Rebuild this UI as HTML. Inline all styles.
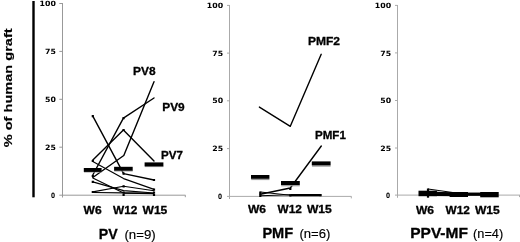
<!DOCTYPE html>
<html><head><meta charset="utf-8"><title>Human graft</title>
<style>
html,body{margin:0;padding:0;background:#fff;}
svg{display:block}
.ax{stroke:#999;stroke-width:1;fill:none}
.ax2{stroke:#aaa;stroke-width:1;fill:none}
.ln{stroke:#000;stroke-width:1.4;fill:none;stroke-linejoin:round;stroke-linecap:round}
.ln2{stroke:#000;stroke-width:1.15;fill:none;stroke-linejoin:round}
.ln3{stroke:#000;stroke-width:2.2;fill:none;stroke-linejoin:round}
.mk{stroke:#000;stroke-width:2.2;stroke-linecap:square;fill:none}
.bar{fill:#000}
.sh{fill:#999}
</style></head>
<body>
<svg width="520" height="242" viewBox="0 0 520 242">
<rect width="520" height="242" fill="#fff"/>
<text transform="translate(11.6,147.3) rotate(-90) scale(1.235,1)" font-family="'Liberation Sans', sans-serif" font-weight="bold" font-size="11.8" fill="#000" stroke="#000" stroke-width="0.15">% of human graft</text>
<rect x="32.3" y="1" width="2.4" height="196.3" fill="#000"/>
<!-- PANEL 1 -->
<path class="ax" d="M62.5 3V197.5M62.5 195.2H185.5M59.3 3.5H62.5M59.3 51.4H62.5M59.3 99.3H62.5M59.3 147.2H62.5M59.3 195.2H62.5M185.3 195.2v2"/>
<polyline class="ln" points="92.8,177.5 123.8,155.5 154,81.7"/>
<polyline class="ln" points="92.8,175 123.4,118.2 154,98"/>
<polyline class="ln" points="92.6,160.2 123.4,130 154,161"/>
<polyline class="ln" points="92.8,116.1 123.6,173.6 154,180"/>
<polyline class="ln2" points="92.8,161.5 123.6,178.6 154,189.4"/>
<polyline class="ln2" points="92.8,178.1 123.6,193.1 154,193.6"/>
<polyline class="ln2" points="92.8,181.9 123.6,190.6 154,193"/>
<polyline class="ln2" points="92.8,191.9 123.6,186.3 154,190.8"/>
<polyline class="ln2" points="92.8,192.5 123.6,192.9 154,193.3"/>
<path class="mk" d="M92.8 116.1h0M92.8 161h0M92.8 176h0M92.8 181.9h0M92.8 192h0M123.6 118.2h0M123.6 130h0M123.6 173.6h0M123.6 186.3h0M123.6 192.5h0M123.6 195h0M154 180h0M154 189.6h0M154 192.6h0M154 195h0"/>
<rect class="sh" x="84" y="171.3" width="17.6" height="1.2"/><rect class="bar" x="83.8" y="168" width="17.8" height="3.9"/>
<rect class="sh" x="114.3" y="170.3" width="18.4" height="1.2"/><rect class="bar" x="114.1" y="166.8" width="18.6" height="3.9"/>
<rect class="sh" x="144.8" y="165.9" width="18.6" height="1.2"/><rect class="bar" x="144.6" y="162.4" width="18.8" height="3.9"/>
<!-- PANEL 2 -->
<path class="ax2" d="M229.5 5V199M229.5 196.4H351.5M227 5.4H229.5M227 53.1H229.5M227 100.8H229.5M227 148.6H229.5M227 196.4H229.5M351.3 196.4v2"/>
<polyline class="ln" points="259.4,107.1 290.3,126.3 321.2,54.3"/>
<polyline class="ln" points="260.3,194.3 290.3,188 321.3,146"/>
<polyline class="ln2" points="260.3,192 290.3,195.2"/>
<polyline class="ln2" points="260.3,195.7 290.3,194.8"/>
<polyline class="ln3" points="290.3,195.1 320.6,195.1"/>
<path class="mk" d="M260.3 192.5v3.5M290.3 189h0M290.3 195.3h0M320.6 195.1h0"/>
<rect class="sh" x="251.2" y="178.9" width="18.2" height="1.2"/><rect class="bar" x="251" y="175" width="18.4" height="3.8"/>
<rect class="sh" x="281.2" y="185.1" width="18.6" height="1.2"/><rect class="bar" x="281" y="181" width="18.8" height="4"/>
<rect class="sh" x="312" y="165.5" width="18.6" height="1.2"/><rect class="bar" x="311.8" y="161.4" width="18.8" height="4"/>
<!-- PANEL 3 -->
<path class="ax2" d="M397.5 5V197.8M397.5 195.1H520M395 5.4H397.5M395 52.9H397.5M395 100.5H397.5M395 148H397.5M395 195.1H397.5M519.5 195.1v2"/>
<polyline class="ln2" points="428,189 458,193.2"/>
<polyline class="ln2" points="428,191.6 458,193.8"/>
<polyline class="ln3" points="428,194 458,194.3" style="stroke-width:4"/><polyline class="ln3" points="458,194.2 489,194.2" style="stroke-width:3.3"/>
<path class="mk" d="M428 189.6v7"/>
<rect class="bar" x="418.5" y="190.7" width="18.4" height="5.5"/>
<rect class="bar" x="449.6" y="192" width="18.4" height="5"/>
<rect class="bar" x="480.2" y="192" width="18.5" height="5.3"/>

<text transform="translate(39.60,6.15) scale(1.079,1)" font-family="'DejaVu Sans', 'Liberation Sans', sans-serif" font-weight="bold" font-size="7.27" fill="#000">100</text>
<text transform="translate(45.10,54.05) scale(1.074,1)" font-family="'DejaVu Sans', 'Liberation Sans', sans-serif" font-weight="bold" font-size="7.27" fill="#000">75</text>
<text transform="translate(45.10,101.95) scale(1.074,1)" font-family="'DejaVu Sans', 'Liberation Sans', sans-serif" font-weight="bold" font-size="7.27" fill="#000">50</text>
<text transform="translate(45.10,149.85) scale(1.074,1)" font-family="'DejaVu Sans', 'Liberation Sans', sans-serif" font-weight="bold" font-size="7.27" fill="#000">25</text>
<text transform="translate(50.90,197.65) scale(0.800,1)" font-family="'DejaVu Sans', 'Liberation Sans', sans-serif" font-weight="bold" font-size="7.27" fill="#000">0</text>
<text transform="translate(206.80,8.05) scale(1.079,1)" font-family="'DejaVu Sans', 'Liberation Sans', sans-serif" font-weight="bold" font-size="7.27" fill="#000">100</text>
<text transform="translate(212.30,55.75) scale(1.074,1)" font-family="'DejaVu Sans', 'Liberation Sans', sans-serif" font-weight="bold" font-size="7.27" fill="#000">75</text>
<text transform="translate(212.30,103.45) scale(1.074,1)" font-family="'DejaVu Sans', 'Liberation Sans', sans-serif" font-weight="bold" font-size="7.27" fill="#000">50</text>
<text transform="translate(212.30,151.25) scale(1.074,1)" font-family="'DejaVu Sans', 'Liberation Sans', sans-serif" font-weight="bold" font-size="7.27" fill="#000">25</text>
<text transform="translate(218.10,198.85) scale(0.800,1)" font-family="'DejaVu Sans', 'Liberation Sans', sans-serif" font-weight="bold" font-size="7.27" fill="#000">0</text>
<text transform="translate(374.80,8.05) scale(1.079,1)" font-family="'DejaVu Sans', 'Liberation Sans', sans-serif" font-weight="bold" font-size="7.27" fill="#000">100</text>
<text transform="translate(380.30,55.55) scale(1.074,1)" font-family="'DejaVu Sans', 'Liberation Sans', sans-serif" font-weight="bold" font-size="7.27" fill="#000">75</text>
<text transform="translate(380.30,103.15) scale(1.074,1)" font-family="'DejaVu Sans', 'Liberation Sans', sans-serif" font-weight="bold" font-size="7.27" fill="#000">50</text>
<text transform="translate(380.30,150.65) scale(1.074,1)" font-family="'DejaVu Sans', 'Liberation Sans', sans-serif" font-weight="bold" font-size="7.27" fill="#000">25</text>
<text transform="translate(386.10,197.55) scale(0.800,1)" font-family="'DejaVu Sans', 'Liberation Sans', sans-serif" font-weight="bold" font-size="7.27" fill="#000">0</text>
<text transform="translate(83.60,213.60) scale(1.075,1)" font-family="'Liberation Sans', sans-serif" font-weight="bold" font-size="11.2" fill="#000" stroke="#000" stroke-width="0.3">W6</text>
<text transform="translate(113.10,213.60) scale(1.058,1)" font-family="'Liberation Sans', sans-serif" font-weight="bold" font-size="11.2" fill="#000" stroke="#000" stroke-width="0.3">W12</text>
<text transform="translate(142.50,213.60) scale(1.080,1)" font-family="'Liberation Sans', sans-serif" font-weight="bold" font-size="11.2" fill="#000" stroke="#000" stroke-width="0.3">W15</text>
<text transform="translate(248.00,213.30) scale(1.075,1)" font-family="'Liberation Sans', sans-serif" font-weight="bold" font-size="11.2" fill="#000" stroke="#000" stroke-width="0.3">W6</text>
<text transform="translate(277.50,213.30) scale(1.058,1)" font-family="'Liberation Sans', sans-serif" font-weight="bold" font-size="11.2" fill="#000" stroke="#000" stroke-width="0.3">W12</text>
<text transform="translate(306.90,213.30) scale(1.080,1)" font-family="'Liberation Sans', sans-serif" font-weight="bold" font-size="11.2" fill="#000" stroke="#000" stroke-width="0.3">W15</text>
<text transform="translate(416.00,213.60) scale(1.075,1)" font-family="'Liberation Sans', sans-serif" font-weight="bold" font-size="11.2" fill="#000" stroke="#000" stroke-width="0.3">W6</text>
<text transform="translate(445.50,213.60) scale(1.058,1)" font-family="'Liberation Sans', sans-serif" font-weight="bold" font-size="11.2" fill="#000" stroke="#000" stroke-width="0.3">W12</text>
<text transform="translate(474.90,213.60) scale(1.080,1)" font-family="'Liberation Sans', sans-serif" font-weight="bold" font-size="11.2" fill="#000" stroke="#000" stroke-width="0.3">W15</text>
<text transform="translate(133.10,75.20) scale(1.058,1)" font-family="'Liberation Sans', sans-serif" font-weight="bold" font-size="11.3" fill="#000" stroke="#000" stroke-width="0.3">PV8</text>
<text transform="translate(162.25,111.40) scale(1.051,1)" font-family="'Liberation Sans', sans-serif" font-weight="bold" font-size="11.3" fill="#000" stroke="#000" stroke-width="0.3">PV9</text>
<text transform="translate(161.00,159.00) scale(1.025,1)" font-family="'Liberation Sans', sans-serif" font-weight="bold" font-size="11.3" fill="#000" stroke="#000" stroke-width="0.3">PV7</text>
<text transform="translate(307.90,44.60) scale(1.067,1)" font-family="'Liberation Sans', sans-serif" font-weight="bold" font-size="11.3" fill="#000" stroke="#000" stroke-width="0.3">PMF2</text>
<text transform="translate(315.00,138.90) scale(1.025,1)" font-family="'Liberation Sans', sans-serif" font-weight="bold" font-size="11.3" fill="#000" stroke="#000" stroke-width="0.3">PMF1</text>
<text transform="translate(98.82,238.70) scale(0.931,1)" font-family="'Liberation Sans', sans-serif" font-weight="bold" font-size="15.2" fill="#000" stroke="#000" stroke-width="0.3">PV</text>
<text transform="translate(124.40,238.60) scale(1.062,1)" font-family="'Liberation Sans', sans-serif" font-weight="normal" font-size="12.5" fill="#000" stroke="#000" stroke-width="0.15">(n=9)</text>
<text transform="translate(262.40,237.50) scale(1.040,1)" font-family="'Liberation Sans', sans-serif" font-weight="bold" font-size="14.0" fill="#000" stroke="#000" stroke-width="0.3">PMF</text>
<text transform="translate(299.40,238.30) scale(1.065,1)" font-family="'Liberation Sans', sans-serif" font-weight="normal" font-size="12.3" fill="#000" stroke="#000" stroke-width="0.15">(n=6)</text>
<text transform="translate(410.25,238.30) scale(1.076,1)" font-family="'Liberation Sans', sans-serif" font-weight="bold" font-size="14.4" fill="#000" stroke="#000" stroke-width="0.3">PPV-MF</text>
<text transform="translate(473.10,238.10) scale(1.036,1)" font-family="'Liberation Sans', sans-serif" font-weight="normal" font-size="12.3" fill="#000" stroke="#000" stroke-width="0.15">(n=4)</text>
</svg>
</body></html>
